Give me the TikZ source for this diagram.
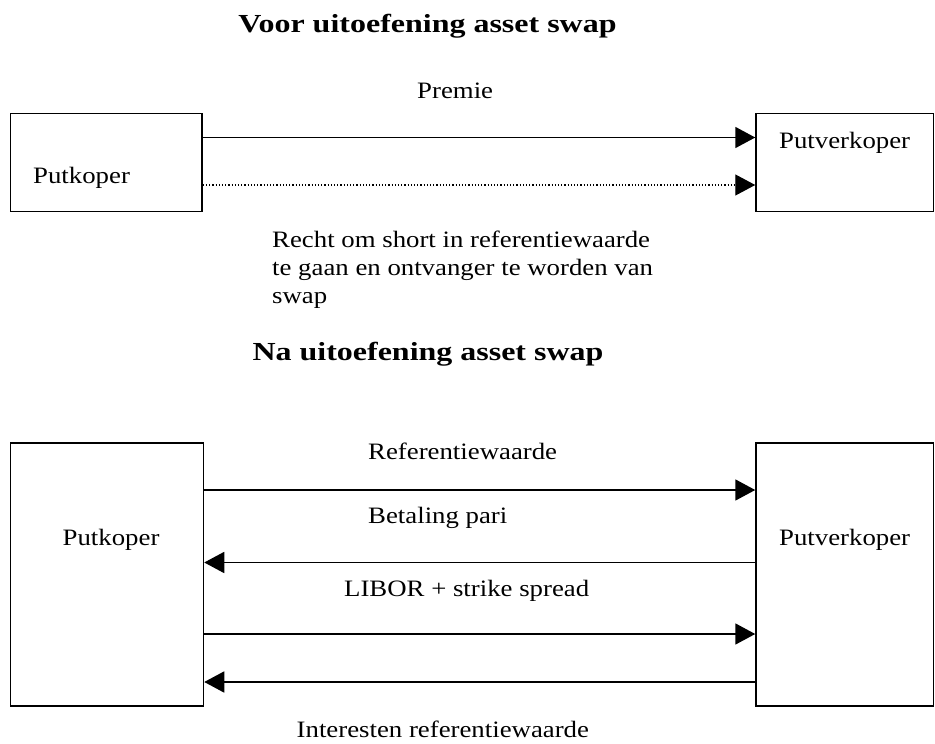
\documentclass[tikz,border=0pt]{standalone}
\usepackage{fontspec}
\setmainfont{Liberation Serif}
\newfontfamily\bodyfont{Liberation Serif}[FakeStretch=1.14]
\newfontfamily\headfont{Liberation Serif}[FakeStretch=1.23]
\usetikzlibrary{arrows.meta}
\begin{document}
\begin{tikzpicture}[x=1pt,y=-1pt,
  box/.style={draw,line width=1.5pt,inner sep=0pt,rectangle},
  lbl/.style={anchor=base west,inner sep=0pt,font=\bodyfont\fontsize{23.5}{27.7}\selectfont},
  head/.style={anchor=base,inner sep=0pt,font=\headfont\bfseries\fontsize{26}{30}\selectfont},
  flow/.style={line width=1.8pt,-{Triangle[length=20pt,width=21pt]}},
  dotflow/.style={line width=1.2pt,dotted,-{Triangle[length=20pt,width=21pt]}}]
\useasboundingbox (0,0) rectangle (935,744);

% before exercise
\node[head] (t1) at (427.5,32) {Voor uitoefening asset swap};
\node[box,minimum width=191.5pt,minimum height=98pt] (kA) at (106.25,162.5) {};
\node[box,minimum width=177.5pt,minimum height=98pt] (vA) at (844.75,162.5) {};
\node[lbl] (kAl) at (33,183) {Putkoper};
\node[lbl] (vAl) at (779,148) {Putverkoper};
\node[lbl] (prem) at (417,98) {Premie};
\draw[flow] (kA.east |- 0,137.5) -- (vA.west |- 0,137.5);
\draw[dotflow] (kA.east |- 0,185) -- (vA.west |- 0,185);
\node[lbl] (recht1) at (272,247) {Recht om short in referentiewaarde};
\node[lbl] (recht2) at (272,275) {te gaan en ontvanger te worden van};
\node[lbl] (recht3) at (272,303) {swap};

% after exercise
\node[head] (t2) at (428,360) {Na uitoefening asset swap};
\node[box,minimum width=193pt,minimum height=263pt] (kB) at (107,574.5) {};
\node[box,minimum width=177.5pt,minimum height=263pt] (vB) at (844.75,574.5) {};
\node[lbl] (kBl) at (62.5,545) {Putkoper};
\node[lbl] (vBl) at (779,545) {Putverkoper};
\node[lbl] (ref) at (368,459) {Referentiewaarde};
\node[lbl] (pari) at (368,523) {Betaling pari};
\node[lbl] (libor) at (344,596) {LIBOR + strike spread};
\node[lbl] (int) at (296.5,737.5) {Interesten referentiewaarde};
\draw[flow] (kB.east |- 0,490) -- (vB.west |- 0,490);
\draw[flow] (vB.west |- 0,562.5) -- (kB.east |- 0,562.5);
\draw[flow] (kB.east |- 0,634) -- (vB.west |- 0,634);
\draw[flow] (vB.west |- 0,682) -- (kB.east |- 0,682);
\end{tikzpicture}
\end{document}
